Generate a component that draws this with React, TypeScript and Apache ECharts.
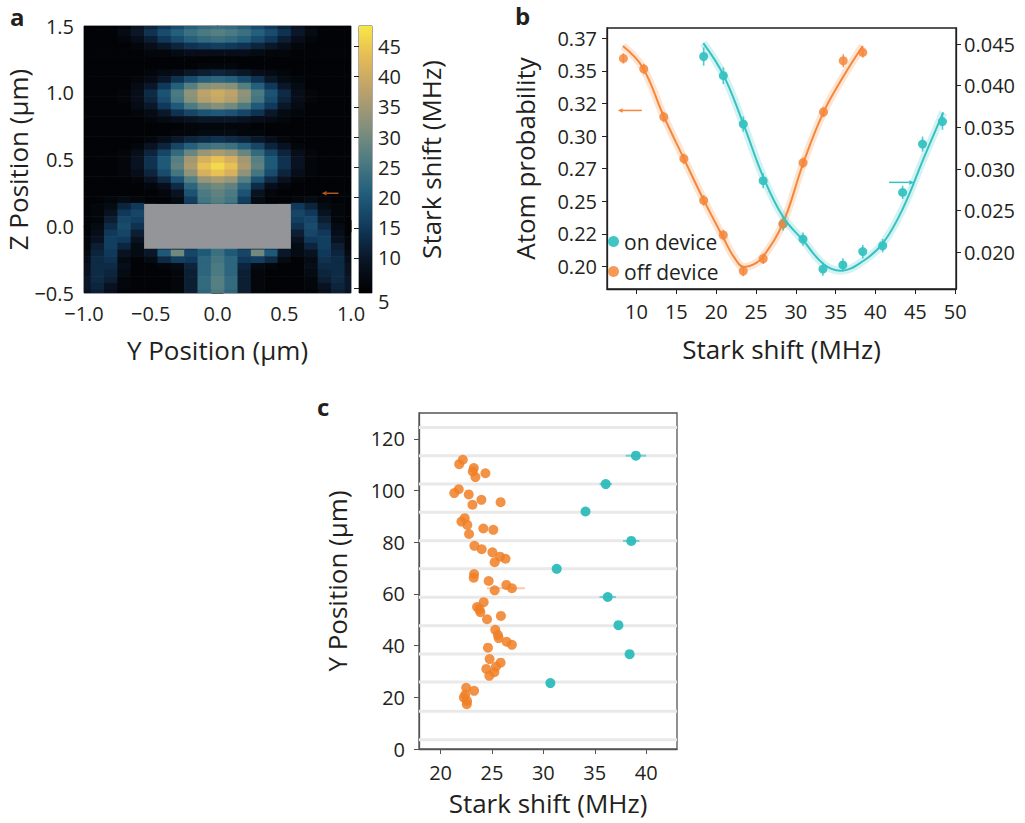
import React, { useEffect, useRef } from 'react';
import * as echarts from 'echarts';

// ---------------- Panel a : Stark-shift map ----------------
const heatYHalf = [0, 0.1, 0.2, 0.3, 0.4, 0.5, 0.6, 0.7, 0.8, 0.9, 1.0];
const heatZ = [1.5, 1.45, 1.4, 1.35, 1.3, 1.25, 1.2, 1.15, 1.1, 1.05, 1.0, 0.95, 0.9, 0.85, 0.8, 0.75, 0.7, 0.65, 0.6, 0.55, 0.5, 0.45, 0.4, 0.35, 0.3, 0.25, 0.2, 0.15, 0.1, 0.05, 0.0, -0.05, -0.1, -0.15, -0.2, -0.25, -0.3, -0.35, -0.4, -0.45, -0.5];
// Stark shift (MHz) for Y = 0 ... 1.0 (field is mirror-symmetric in Y)
const heatHalf = [
  [24, 23, 21, 18, 15, 12, 9, 6, 5, 5, 5],
  [27, 26, 24, 21, 18, 14, 10, 7, 5, 5, 5],
  [24, 23, 21, 18, 15, 11, 8, 6, 5, 5, 5],
  [16, 15, 14, 12, 10, 8, 6, 5, 5, 5, 5],
  [8, 8, 8, 7, 6, 6, 5, 5, 5, 5, 5],
  [5, 5, 5, 5, 5, 5, 5, 5, 5, 5, 5],
  [6, 6, 5, 5, 5, 5, 5, 5, 5, 5, 5],
  [12, 11, 10, 8, 7, 6, 5, 5, 5, 5, 5],
  [22, 21, 18, 14, 10, 7, 6, 5, 5, 5, 5],
  [33, 32, 27, 21, 15, 10, 7, 5, 5, 5, 5],
  [40, 38, 33, 26, 19, 13, 8, 6, 5, 5, 5],
  [39, 37, 32, 25, 18, 12, 8, 6, 5, 5, 5],
  [32, 30, 26, 20, 15, 10, 7, 5, 5, 5, 5],
  [20, 19, 17, 14, 10, 7, 6, 5, 5, 5, 5],
  [10, 10, 9, 8, 7, 6, 5, 5, 5, 5, 5],
  [6, 6, 6, 5, 5, 5, 5, 5, 5, 5, 5],
  [7, 7, 6, 6, 5, 5, 5, 5, 5, 5, 5],
  [14, 13, 12, 10, 8, 6, 5, 5, 5, 5, 5],
  [25, 24, 21, 17, 12, 9, 6, 5, 5, 5, 5],
  [36, 34, 29, 23, 17, 12, 8, 6, 5, 5, 5],
  [44, 41, 35, 27, 20, 14, 9, 6, 5, 5, 5],
  [47, 44, 36, 28, 20, 14, 9, 6, 5, 5, 5],
  [44, 41, 33, 25, 18, 12, 8, 6, 5, 5, 5],
  [36, 34, 27, 19, 13, 9, 6, 5, 5, 5, 5],
  [30, 28, 22, 13, 8, 6, 5, 5, 5, 5, 5],
  [28, 26, 19, 9, 6, 5, 5, 5, 5, 5, 5],
  [27, 25, 16, 7, 5, 5, 6, 7, 6, 5, 5],
  [25, 22, 14, 8, 8, 10, 15, 12, 7, 6, 5],
  [24, 21, 13, 9, 9, 12, 17, 15, 9, 6, 5],
  [24, 21, 13, 9, 9, 12, 16, 17, 11, 6, 5],
  [24, 21, 13, 9, 9, 11, 14, 18, 13, 7, 5],
  [24, 21, 13, 9, 9, 10, 11, 17, 15, 8, 5],
  [24, 21, 13, 9, 9, 9, 9, 15, 16, 9, 6],
  [24, 21, 14, 12, 14, 9, 7, 12, 16, 11, 6],
  [24, 20, 17, 30, 20, 10, 7, 9, 15, 12, 7],
  [25, 22, 15, 16, 13, 7, 5, 7, 14, 13, 8],
  [26, 22, 12, 7, 6, 5, 5, 8, 13, 13, 9],
  [26, 22, 11, 6, 5, 5, 5, 7, 12, 13, 9],
  [27, 23, 11, 6, 5, 5, 5, 6, 11, 13, 10],
  [27, 23, 11, 6, 5, 5, 5, 6, 9, 12, 10],
  [26, 22, 11, 6, 5, 5, 5, 5, 8, 11, 9],
];
const deviceBox = [-0.55, -0.168, 0.55, 0.167];
const aArrow = [0.906, 0.247, 0.78, 0.247];
const colorbarRange = [4.2, 48.4];
const colorbarTicks = [5, 10, 15, 20, 25, 30, 35, 40, 45];
const colorbarMinorTicks = [5, 6, 7, 8, 9, 10, 11, 12, 13, 14, 15, 16, 17, 18, 19, 20, 21, 22, 23, 24, 25, 26, 27, 28, 29, 30, 31, 32, 33, 34, 35, 36, 37, 38, 39, 40, 41, 42, 43, 44, 45, 46, 47, 48];
const colormap = ['#000000', '#0a1526', '#103a5c', '#225e7c', '#4e7c82', '#84907c', '#b8a06c', '#e2b858', '#f9e646'];

// ---------------- Panel b : atom probability vs Stark shift ----------------
const bOffX = [8.36, 10.92, 13.43, 15.95, 18.43, 20.9, 23.4, 25.9, 28.4, 30.9, 33.47, 35.95, 38.4];
const bOffY = [0.3595, 0.3514, 0.3146, 0.2826, 0.2506, 0.2241, 0.1965, 0.2059, 0.233, 0.2795, 0.3184, 0.3577, 0.3641];
const bOffErr = [0.004, 0.004, 0.004, 0.004, 0.004, 0.004, 0.004, 0.004, 0.004, 0.004, 0.004, 0.005, 0.004];
const bOnX = [18.43, 20.9, 23.4, 25.9, 28.4, 30.9, 33.4, 35.9, 38.4, 40.9, 43.4, 45.9, 48.4];
const bOnY = [0.0435, 0.0412, 0.0354, 0.0286, 0.0234, 0.0216, 0.018, 0.0185, 0.0201, 0.0208, 0.0272, 0.033, 0.0357];
const bOnErr = [0.0011, 0.001, 0.0009, 0.0009, 0.0008, 0.0008, 0.0008, 0.0008, 0.0008, 0.0008, 0.0008, 0.0009, 0.001];
const offFitX = [8.3, 10.8, 13.35, 15.85, 18.4, 20.9, 22.2, 23.5, 24.7, 25.9, 28.4, 30.95, 33.45, 36.0, 38.4];
const offFitY = [0.369, 0.3524, 0.3161, 0.2839, 0.2514, 0.222, 0.2075, 0.1995, 0.2015, 0.2075, 0.2335, 0.2795, 0.3179, 0.346, 0.369];
const onFitX = [18.38, 20.9, 23.42, 25.93, 28.44, 30.96, 33.47, 35.6, 38.5, 41.0, 43.5, 46.0, 48.5];
const onFitY = [0.0451, 0.0413, 0.0354, 0.029, 0.0242, 0.0214, 0.0186, 0.0178, 0.019, 0.0212, 0.0254, 0.0312, 0.0368];
const bOffArrow = [10.67, 0.3196, 7.65, 0.3196];
const bOnArrow = [41.7, 0.0284, 44.85, 0.0284];
const bXTicks = [10, 15, 20, 25, 30, 35, 40, 45, 50];
const bLeftTicks = [0.2, 0.225, 0.25, 0.275, 0.3, 0.325, 0.35, 0.375];
const bLeftTickLabels = ['0.20', '0.22', '0.25', '0.27', '0.30', '0.32', '0.35', '0.37'];
const bRightTicks = [0.02, 0.025, 0.03, 0.035, 0.04, 0.045];
const bRightTickLabels = ['0.020', '0.025', '0.030', '0.035', '0.040', '0.045'];

// ---------------- Panel c : Stark shift along the device ----------------
const cGuideY = [124.4, 113.5, 102.5, 91.6, 80.6, 69.7, 58.7, 47.7, 36.8, 25.9, 14.6, 3.6];
const cOnX = [39.0, 36.07, 34.1, 38.55, 31.3, 36.26, 37.3, 38.39, 30.68];
const cOnY = [113.5, 102.5, 91.9, 80.5, 69.7, 58.8, 47.9, 36.7, 25.5];
const cOnXErr = [1.0, 0.6, 0, 0.8, 0, 0.8, 0, 0, 0];
const cOffX = [22.16, 21.81, 23.23, 23.13, 24.36, 23.39, 21.77, 21.33, 22.74, 23.97, 25.84, 23.1, 22.35, 22.03, 22.6, 24.16, 25.13, 22.77, 23.29, 24.0, 25.04, 25.78, 26.32, 25.26, 23.26, 23.22, 24.68, 26.4, 26.94, 25.26, 24.19, 23.55, 23.78, 23.87, 25.87, 24.52, 25.32, 25.58, 25.65, 26.42, 26.94, 24.61, 24.77, 25.84, 25.39, 24.45, 25.23, 24.74, 22.49, 23.26, 22.26, 22.58, 22.55, 22.4];
const cOffY = [111.9, 110.2, 108.7, 107.4, 106.7, 105.2, 100.5, 99.0, 98.5, 96.4, 95.5, 94.5, 89.3, 88.0, 86.7, 85.3, 84.8, 83.2, 78.6, 77.3, 76.1, 74.4, 73.6, 72.3, 67.7, 66.3, 65.0, 63.5, 62.2, 61.4, 56.8, 54.9, 54.1, 52.9, 51.5, 50.2, 46.1, 44.1, 42.9, 41.5, 40.3, 39.2, 34.8, 33.4, 31.9, 31.0, 29.7, 28.3, 23.7, 22.5, 19.9, 18.6, 17.3, 21.0];
const cOffErrBars = [[24.5, 62.2, 28.2]];
const cXTicks = [20, 25, 30, 35, 40];
const cYTicks = [0, 20, 40, 60, 80, 100, 120];

const FONT = '"Open Sans", "Noto Sans", sans-serif';
const INK = '#231f20';
const ORANGE = '#f5873a';
const TEAL = '#36c2c2';
const C_ORANGE = '#f07f26';
const C_TEAL = '#2cbcbc';

const minus = (s: string) => s.replace('-', '\u2212');

function buildHeat() {
  const out: number[][] = [];
  heatZ.forEach((z, r) => {
    const row = heatHalf[r];
    for (let j = heatYHalf.length - 1; j >= 1; j--) out.push([-heatYHalf[j], z, row[j]]);
    for (let j = 0; j < heatYHalf.length; j++) out.push([heatYHalf[j], z, row[j]]);
  });
  return out;
}

function arrowItem(color: string, lw: number, head: number) {
  return (params: any, api: any) => {
    const p1 = api.coord([api.value(0), api.value(1)]);
    const p2 = api.coord([api.value(2), api.value(3)]);
    const dx = p2[0] - p1[0], dy = p2[1] - p1[1];
    const len = Math.sqrt(dx * dx + dy * dy) || 1;
    const ux = dx / len, uy = dy / len;
    const bx = p2[0] - ux * head, by = p2[1] - uy * head;
    const w = head * 0.45;
    return {
      type: 'group',
      children: [
        { type: 'line', shape: { x1: p1[0], y1: p1[1], x2: bx, y2: by }, style: { stroke: color, lineWidth: lw } },
        { type: 'polygon', shape: { points: [[p2[0], p2[1]], [bx - uy * w, by + ux * w], [bx + uy * w, by - ux * w]] }, style: { fill: color } },
      ],
    };
  };
}

function vErr(color: string) {
  return (params: any, api: any) => {
    const x = api.value(0), y = api.value(1), e = api.value(2);
    const a = api.coord([x, y - e]);
    const b = api.coord([x, y + e]);
    return { type: 'line', shape: { x1: a[0], y1: a[1], x2: b[0], y2: b[1] }, style: { stroke: color, lineWidth: 1.6, opacity: 0.85 } };
  };
}

function hErr(color: string, opacity: number) {
  return (params: any, api: any) => {
    const a = api.coord([api.value(0), api.value(1)]);
    const b = api.coord([api.value(2), api.value(1)]);
    return { type: 'line', shape: { x1: a[0], y1: a[1], x2: b[0], y2: b[1] }, style: { stroke: color, lineWidth: 2, opacity } };
  };
}

const tickFont = { fontFamily: FONT, fontSize: 20, color: INK };
const nameFont = { fontFamily: FONT, fontSize: 26, color: INK };

export default function App() {
  const ref = useRef<HTMLDivElement>(null);
  useEffect(() => {
    if (!ref.current) return;
    const chart = echarts.init(ref.current, undefined, { renderer: 'svg' });
    const heatData = buildHeat();
    const option: any = {
      animation: false,
      backgroundColor: '#ffffff',
      textStyle: { fontFamily: FONT },
      grid: [
        { left: 84, top: 26, width: 267, height: 267, show: true, borderColor: '#3a3a3a', borderWidth: 1, containLabel: false },
        { left: 359, top: 26, width: 13, height: 267, show: true, borderColor: '#555', borderWidth: 1 },
        { left: 607, top: 28, width: 349, height: 261, show: true, borderColor: INK, borderWidth: 1.3 },
        { left: 419, top: 413, width: 258, height: 336, show: true, borderColor: '#555', borderWidth: 1.3 },
      ],
      visualMap: [
        { type: 'continuous', show: false, seriesIndex: 0, dimension: 2, min: colorbarRange[0], max: colorbarRange[1], inRange: { color: colormap } },
      ],
      legend: {
        data: ['on device', 'off device'],
        orient: 'vertical', left: 608, top: 231, padding: 0,
        itemWidth: 11, itemHeight: 11, itemGap: 9, icon: 'circle', selectedMode: false,
        textStyle: { fontFamily: FONT, fontSize: 21, color: INK },
      },
      xAxis: [
        {
          gridIndex: 0, type: 'value', min: -1, max: 1, interval: 0.5, position: 'bottom',
          axisLine: { show: true, lineStyle: { color: '#3a3a3a' } },
          axisTick: { show: true, inside: true, length: 6, lineStyle: { color: '#5a5a5a' } },
          minorTick: { show: true, splitNumber: 5, length: 3, lineStyle: { color: '#5a5a5a' } },
          axisLabel: { ...tickFont, margin: 10, formatter: (v: number) => minus(v.toFixed(1)) },
          splitLine: { show: false },
          name: 'Y Position (\u00b5m)', nameLocation: 'middle', nameGap: 44, nameTextStyle: nameFont,
        },
        {
          gridIndex: 0, type: 'value', min: -1, max: 1, interval: 0.5, position: 'top',
          axisLine: { show: false },
          axisTick: { show: true, inside: true, length: 6, lineStyle: { color: '#5a5a5a' } },
          minorTick: { show: true, splitNumber: 5, length: 3, lineStyle: { color: '#5a5a5a' } },
          axisLabel: { show: false }, splitLine: { show: false },
        },
        { gridIndex: 1, type: 'value', min: 0, max: 1, show: false },
        {
          gridIndex: 2, type: 'value', min: 6.3, max: 50.1,
          axisLine: { show: true, lineStyle: { color: INK, width: 1.3 } },
          axisTick: { show: true, length: 5, customValues: bXTicks, lineStyle: { color: INK } },
          axisLabel: { ...tickFont, margin: 12, customValues: bXTicks },
          splitLine: { show: false },
          name: 'Stark shift (MHz)', nameLocation: 'middle', nameGap: 47, nameTextStyle: nameFont,
        },
        {
          gridIndex: 3, type: 'value', min: 17.9, max: 43,
          axisLine: { show: true, lineStyle: { color: '#555', width: 1.3 } },
          axisTick: { show: true, length: 5, customValues: cXTicks, lineStyle: { color: '#555' } },
          axisLabel: { ...tickFont, margin: 13, customValues: cXTicks },
          splitLine: { show: false },
          name: 'Stark shift (MHz)', nameLocation: 'middle', nameGap: 41, nameTextStyle: nameFont,
        },
      ],
      yAxis: [
        {
          gridIndex: 0, type: 'value', min: -0.5, max: 1.5, interval: 0.5, position: 'left',
          axisLine: { show: true, lineStyle: { color: '#3a3a3a' } },
          axisTick: { show: true, inside: true, length: 6, lineStyle: { color: '#5a5a5a' } },
          minorTick: { show: true, splitNumber: 5, length: 3, lineStyle: { color: '#5a5a5a' } },
          axisLabel: { ...tickFont, margin: 10, formatter: (v: number) => minus(v.toFixed(1)) },
          splitLine: { show: false },
          name: 'Z Position (\u00b5m)', nameLocation: 'middle', nameGap: 47, nameTextStyle: nameFont,
        },
        {
          gridIndex: 0, type: 'value', min: -0.5, max: 1.5, interval: 0.5, position: 'right',
          axisLine: { show: false },
          axisTick: { show: true, inside: true, length: 6, lineStyle: { color: '#5a5a5a' } },
          minorTick: { show: true, splitNumber: 5, length: 3, lineStyle: { color: '#5a5a5a' } },
          axisLabel: { show: false }, splitLine: { show: false },
        },
        {
          gridIndex: 1, type: 'value', min: colorbarRange[0], max: colorbarRange[1], position: 'right',
          axisLine: { show: false },
          axisTick: { show: true, inside: true, length: 5, customValues: colorbarTicks, lineStyle: { color: '#222' } },
          axisLabel: {
            ...tickFont, margin: 6, customValues: colorbarTicks,
            formatter: (v: number) => (v === colorbarTicks[0] ? '{low|' + v + '}' : String(v)),
            rich: { low: { fontFamily: FONT, fontSize: 20, color: INK, padding: [26, 0, 0, 0] } },
          },
          splitLine: { show: false },
          name: 'Stark shift (MHz)', nameLocation: 'middle', nameGap: 46, nameRotate: 90, nameTextStyle: nameFont,
        },
        {
          gridIndex: 1, type: 'value', min: colorbarRange[0], max: colorbarRange[1], position: 'right',
          axisLine: { show: false },
          axisTick: { show: true, inside: true, length: 2.5, customValues: colorbarMinorTicks, lineStyle: { color: '#222' } },
          axisLabel: { show: false }, splitLine: { show: false },
        },
        {
          gridIndex: 2, type: 'value', min: 0.1827, max: 0.3828, position: 'left',
          axisLine: { show: true, lineStyle: { color: INK, width: 1.3 } },
          axisTick: { show: true, length: 5, customValues: bLeftTicks, lineStyle: { color: INK } },
          axisLabel: {
            ...tickFont, margin: 10, customValues: bLeftTicks,
            formatter: (v: number) => {
              const i = bLeftTicks.findIndex((t) => Math.abs(t - v) < 1e-6);
              return i >= 0 ? bLeftTickLabels[i] : '';
            },
          },
          splitLine: { show: false },
          name: 'Atom probability', nameLocation: 'middle', nameGap: 69, nameTextStyle: nameFont,
        },
        {
          gridIndex: 2, type: 'value', min: 0.01561, max: 0.04692, position: 'right',
          axisLine: { show: true, lineStyle: { color: INK, width: 1.3 } },
          axisTick: { show: true, length: 5, customValues: bRightTicks, lineStyle: { color: INK } },
          axisLabel: {
            ...tickFont, margin: 8, customValues: bRightTicks,
            formatter: (v: number) => {
              const i = bRightTicks.findIndex((t) => Math.abs(t - v) < 1e-7);
              return i >= 0 ? bRightTickLabels[i] : '';
            },
          },
          splitLine: { show: false },
        },
        {
          gridIndex: 3, type: 'value', min: 0, max: 130,
          axisLine: { show: true, lineStyle: { color: '#555', width: 1.3 } },
          axisTick: { show: true, length: 5, customValues: cYTicks, lineStyle: { color: '#555' } },
          axisLabel: { ...tickFont, margin: 14, customValues: cYTicks },
          splitLine: { show: false },
          name: 'Y Position (\u00b5m)', nameLocation: 'middle', nameGap: 69, nameTextStyle: nameFont,
        },
      ],
      series: [
        // 0 heat map cells
        {
          type: 'custom', xAxisIndex: 0, yAxisIndex: 0, data: heatData, encode: { x: 0, y: 1 },
          renderItem: (params: any, api: any) => {
            const y = api.value(0), z = api.value(1);
            const p0 = api.coord([y - 0.05, z + 0.025]);
            const p1 = api.coord([y + 0.05, z - 0.025]);
            const cs = params.coordSys;
            const rect = echarts.graphic.clipRectByRect(
              { x: p0[0], y: p0[1], width: p1[0] - p0[0] + 0.6, height: p1[1] - p0[1] + 0.6 },
              { x: cs.x, y: cs.y, width: cs.width, height: cs.height }
            );
            if (!rect) return null;
            return { type: 'rect', shape: rect, style: { fill: api.visual('color') } };
          },
        },
        // 1 device cross-section
        {
          type: 'custom', xAxisIndex: 0, yAxisIndex: 0, data: [deviceBox], encode: { x: [0, 2], y: [1, 3] }, z: 3,
          renderItem: (params: any, api: any) => {
            const a = api.coord([api.value(0), api.value(3)]);
            const b = api.coord([api.value(2), api.value(1)]);
            return { type: 'rect', shape: { x: a[0], y: a[1], width: b[0] - a[0], height: b[1] - a[1] }, style: { fill: '#939598' } };
          },
        },
        // 2 arrow in panel a
        { type: 'custom', xAxisIndex: 0, yAxisIndex: 0, data: [aArrow], encode: { x: [0, 2], y: [1, 3] }, z: 4, renderItem: arrowItem('#b5561a', 1.5, 5) },
        // 3 colour bar
        {
          type: 'custom', xAxisIndex: 2, yAxisIndex: 2, data: [[0, colorbarRange[0], colorbarRange[1]]], encode: { x: 0, y: [1, 2] },
          renderItem: (params: any, api: any) => {
            const a = api.coord([0, api.value(2)]);
            const b = api.coord([1, api.value(1)]);
            const stops = colormap.map((c, i) => ({ offset: i / (colormap.length - 1), color: c }));
            return { type: 'rect', shape: { x: a[0], y: a[1], width: b[0] - a[0], height: b[1] - a[1] }, style: { fill: new echarts.graphic.LinearGradient(0, 1, 0, 0, stops) } };
          },
        },
        // 4-7 fit curves and bands
        { type: 'line', xAxisIndex: 3, yAxisIndex: 4, data: offFitX.map((x, i) => [x, offFitY[i]]), smooth: 0.4, showSymbol: false, lineStyle: { color: ORANGE, width: 8, opacity: 0.22 }, silent: true },
        { type: 'line', xAxisIndex: 3, yAxisIndex: 4, data: offFitX.map((x, i) => [x, offFitY[i]]), smooth: 0.4, showSymbol: false, lineStyle: { color: ORANGE, width: 2 }, silent: true },
        { type: 'line', xAxisIndex: 3, yAxisIndex: 5, data: onFitX.map((x, i) => [x, onFitY[i]]), smooth: 0.4, showSymbol: false, lineStyle: { color: TEAL, width: 8, opacity: 0.22 }, silent: true },
        { type: 'line', xAxisIndex: 3, yAxisIndex: 5, data: onFitX.map((x, i) => [x, onFitY[i]]), smooth: 0.4, showSymbol: false, lineStyle: { color: TEAL, width: 2 }, silent: true },
        // 8-9 error bars
        { type: 'custom', xAxisIndex: 3, yAxisIndex: 5, data: bOnX.map((x, i) => [x, bOnY[i], bOnErr[i]]), encode: { x: 0, y: 1 }, renderItem: vErr(TEAL) },
        { type: 'custom', xAxisIndex: 3, yAxisIndex: 4, data: bOffX.map((x, i) => [x, bOffY[i], bOffErr[i]]), encode: { x: 0, y: 1 }, renderItem: vErr(ORANGE) },
        // 10-11 data points
        { type: 'scatter', name: 'on device', xAxisIndex: 3, yAxisIndex: 5, data: bOnX.map((x, i) => [x, bOnY[i]]), symbolSize: 9, itemStyle: { color: TEAL, opacity: 0.95 } },
        { type: 'scatter', name: 'off device', xAxisIndex: 3, yAxisIndex: 4, data: bOffX.map((x, i) => [x, bOffY[i]]), symbolSize: 9, itemStyle: { color: ORANGE, opacity: 0.85 } },
        // 12-13 arrows
        { type: 'custom', xAxisIndex: 3, yAxisIndex: 4, data: [bOffArrow], encode: { x: [0, 2], y: [1, 3] }, renderItem: arrowItem(ORANGE, 1.5, 5) },
        { type: 'custom', xAxisIndex: 3, yAxisIndex: 5, data: [bOnArrow], encode: { x: [0, 2], y: [1, 3] }, renderItem: arrowItem(TEAL, 1.5, 5) },
        // 14 panel c guide lines
        {
          type: 'custom', xAxisIndex: 4, yAxisIndex: 6, data: cGuideY.map((y) => [17.9, y]), encode: { x: 0, y: 1 }, silent: true,
          renderItem: (params: any, api: any) => {
            const p = api.coord([api.value(0), api.value(1)]);
            const cs = params.coordSys;
            return { type: 'line', shape: { x1: cs.x, y1: p[1], x2: cs.x + cs.width, y2: p[1] }, style: { stroke: '#e9e9e9', lineWidth: 3 } };
          },
        },
        // 15-16 horizontal error bars
        { type: 'custom', xAxisIndex: 4, yAxisIndex: 6, data: cOnX.map((x, i) => [x - cOnXErr[i], cOnY[i], x + cOnXErr[i]]), encode: { x: 0, y: 1 }, renderItem: hErr(C_TEAL, 0.6) },
        { type: 'custom', xAxisIndex: 4, yAxisIndex: 6, data: cOffErrBars, encode: { x: 0, y: 1 }, renderItem: hErr('#f6b48a', 0.7) },
        // 17-18 panel c points
        { type: 'scatter', name: 'off device c', xAxisIndex: 4, yAxisIndex: 6, data: cOffX.map((x, i) => [x, cOffY[i]]), symbolSize: 10, itemStyle: { color: C_ORANGE, opacity: 0.85 } },
        { type: 'scatter', name: 'on device c', xAxisIndex: 4, yAxisIndex: 6, data: cOnX.map((x, i) => [x, cOnY[i]]), symbolSize: 10, itemStyle: { color: C_TEAL, opacity: 0.95 } },
      ],
      graphic: [
        { type: 'text', left: 10, top: 4, style: { text: 'a', font: 'bold 24px "Open Sans", sans-serif', fill: INK } },
        { type: 'text', left: 515, top: 3, style: { text: 'b', font: 'bold 24px "Open Sans", sans-serif', fill: INK } },
        { type: 'text', left: 317, top: 394, style: { text: 'c', font: 'bold 24px "Open Sans", sans-serif', fill: INK } },
      ],
    };
    chart.setOption(option);
    return () => chart.dispose();
  }, []);
  return <div ref={ref} style={{ position: 'fixed', left: 0, top: 0, width: 1025, height: 823, background: '#fff' }} />;
}
